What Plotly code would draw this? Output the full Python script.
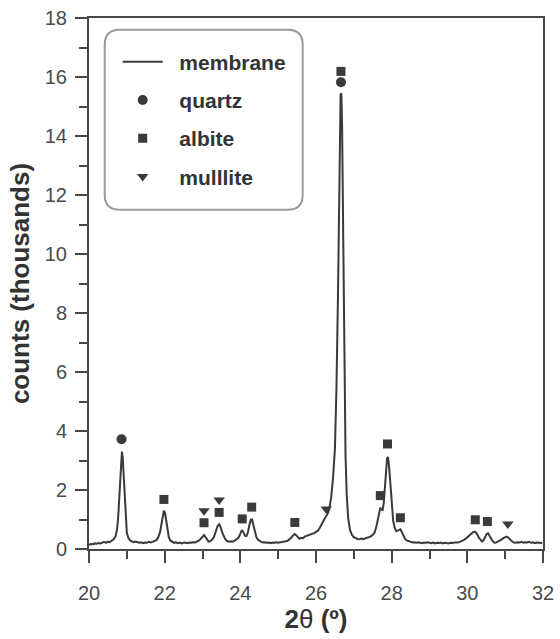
import plotly.graph_objects as go

# ---- data ----
two_theta = [
    20.00, 20.05, 20.10, 20.15, 20.20, 20.25, 20.30, 20.35, 20.40, 20.45, 20.50, 20.55, 20.60, 20.65, 20.70,
    20.74, 20.77, 20.80, 20.83, 20.85, 20.87, 20.89, 20.91, 20.94, 20.97, 21.00, 21.04, 21.08, 21.13, 21.18,
    21.23, 21.28, 21.33, 21.38, 21.43, 21.48, 21.53, 21.58, 21.63, 21.68, 21.73, 21.78, 21.83, 21.88, 21.92,
    21.95, 21.98, 22.01, 22.04, 22.07, 22.11, 22.15, 22.20, 22.25, 22.30, 22.35, 22.40, 22.45, 22.50, 22.55,
    22.60, 22.65, 22.70, 22.75, 22.80, 22.85, 22.90, 22.95, 23.00, 23.04, 23.08, 23.12, 23.16, 23.20, 23.25,
    23.30, 23.35, 23.40, 23.44, 23.48, 23.52, 23.56, 23.60, 23.65, 23.70, 23.75, 23.80, 23.85, 23.90, 23.95,
    24.00, 24.04, 24.08, 24.12, 24.16, 24.20, 24.24, 24.28, 24.31, 24.34, 24.38, 24.42, 24.46, 24.50, 24.55,
    24.60, 24.65, 24.70, 24.75, 24.80, 24.85, 24.90, 24.95, 25.00, 25.05, 25.10, 25.15, 25.20, 25.25, 25.30,
    25.35, 25.40, 25.44, 25.48, 25.52, 25.56, 25.60, 25.65, 25.70, 25.75, 25.80, 25.85, 25.90, 25.95, 26.00,
    26.05, 26.10, 26.15, 26.20, 26.25, 26.30, 26.35, 26.40, 26.45, 26.50, 26.54, 26.58, 26.61, 26.63, 26.65,
    26.67, 26.69, 26.71, 26.73, 26.75, 26.78, 26.81, 26.85, 26.90, 26.95, 27.00, 27.05, 27.10, 27.15, 27.20,
    27.25, 27.30, 27.35, 27.40, 27.45, 27.50, 27.55, 27.60, 27.64, 27.67, 27.70, 27.73, 27.76, 27.79, 27.82,
    27.85, 27.88, 27.90, 27.92, 27.95, 27.98, 28.01, 28.04, 28.08, 28.12, 28.16, 28.20, 28.23, 28.27, 28.31,
    28.35, 28.40, 28.45, 28.50, 28.55, 28.60, 28.65, 28.70, 28.75, 28.80, 28.85, 28.90, 28.95, 29.00, 29.05,
    29.10, 29.15, 29.20, 29.25, 29.30, 29.35, 29.40, 29.45, 29.50, 29.55, 29.60, 29.65, 29.70, 29.75, 29.80,
    29.85, 29.90, 29.95, 30.00, 30.05, 30.10, 30.15, 30.20, 30.25, 30.30, 30.35, 30.39, 30.43, 30.47, 30.51,
    30.55, 30.59, 30.63, 30.67, 30.71, 30.75, 30.80, 30.85, 30.90, 30.95, 31.00, 31.04, 31.08, 31.13, 31.18,
    31.23, 31.28, 31.33, 31.38, 31.43, 31.48, 31.53, 31.58, 31.63, 31.68, 31.73, 31.78, 31.83, 31.88, 31.93,
    31.98,
]
counts_k = [
    0.14, 0.17, 0.16, 0.19, 0.18, 0.20, 0.19, 0.22, 0.24, 0.21, 0.25, 0.23, 0.28, 0.33, 0.42,
    0.65, 1.05, 1.75, 2.65, 3.10, 3.30, 3.12, 2.60, 1.70, 0.95, 0.55, 0.38, 0.30, 0.26, 0.23,
    0.25, 0.22, 0.21, 0.23, 0.20, 0.22, 0.21, 0.24, 0.22, 0.24, 0.27, 0.30, 0.40, 0.58, 0.88,
    1.15, 1.30, 1.22, 0.95, 0.62, 0.40, 0.29, 0.24, 0.21, 0.23, 0.20, 0.22, 0.19, 0.21, 0.22,
    0.20, 0.22, 0.21, 0.23, 0.22, 0.25, 0.28, 0.34, 0.43, 0.47, 0.40, 0.30, 0.25, 0.26, 0.31,
    0.40, 0.58, 0.78, 0.84, 0.74, 0.56, 0.42, 0.33, 0.27, 0.25, 0.26, 0.25, 0.28, 0.32, 0.38,
    0.52, 0.64, 0.57, 0.45, 0.44, 0.56, 0.82, 1.00, 1.00, 0.82, 0.58, 0.42, 0.32, 0.27, 0.24,
    0.22, 0.23, 0.21, 0.22, 0.20, 0.22, 0.21, 0.23, 0.21, 0.22, 0.24, 0.23, 0.26, 0.28, 0.32,
    0.39, 0.47, 0.51, 0.46, 0.39, 0.35, 0.38, 0.36, 0.42, 0.44, 0.46, 0.49, 0.50, 0.54, 0.58,
    0.62, 0.72, 0.85, 0.98, 1.08, 1.18, 1.35, 1.75, 2.40, 3.40, 5.40, 8.50, 12.00, 14.40, 15.40,
    15.45, 14.30, 11.80, 8.60, 5.60, 3.20, 1.90, 1.05, 0.64, 0.48, 0.40, 0.36, 0.34, 0.33, 0.35,
    0.33, 0.35, 0.38, 0.40, 0.43, 0.48, 0.56, 0.78, 1.05, 1.30, 1.40, 1.34, 1.32, 1.55, 2.05,
    2.70, 3.08, 3.12, 2.95, 2.50, 1.90, 1.30, 0.95, 0.72, 0.60, 0.62, 0.66, 0.67, 0.58, 0.45,
    0.35, 0.29, 0.26, 0.24, 0.22, 0.23, 0.21, 0.23, 0.22, 0.20, 0.22, 0.21, 0.23, 0.22, 0.20,
    0.22, 0.19, 0.21, 0.20, 0.22, 0.19, 0.21, 0.20, 0.19, 0.21, 0.20, 0.22, 0.21, 0.22, 0.24,
    0.26, 0.30, 0.34, 0.40, 0.46, 0.52, 0.57, 0.59, 0.52, 0.39, 0.29, 0.25, 0.30, 0.42, 0.51,
    0.53, 0.46, 0.35, 0.27, 0.22, 0.21, 0.24, 0.28, 0.32, 0.37, 0.41, 0.42, 0.39, 0.32, 0.26,
    0.22, 0.21, 0.23, 0.22, 0.24, 0.21, 0.23, 0.22, 0.24, 0.21, 0.23, 0.20, 0.22, 0.21, 0.19,
    0.20,
]

quartz_x = [20.86, 26.66]
quartz_y = [3.72, 15.82]

albite_x = [21.98, 23.04, 23.44, 24.05, 24.30, 25.44, 26.66, 27.70, 27.89, 28.23, 30.21, 30.53]
albite_y = [1.68, 0.89, 1.24, 1.02, 1.42, 0.90, 16.19, 1.81, 3.56, 1.06, 0.99, 0.93]

mullite_x = [23.04, 23.44, 26.27, 31.07]
mullite_y = [1.30, 1.66, 1.36, 0.85]

x_ticks = [20, 22, 24, 26, 28, 30, 32]
y_ticks = [0, 2, 4, 6, 8, 10, 12, 14, 16, 18]

# ---- figure ----
INK = "#3a3a3a"
AXIS = "#474747"
FONT = "Arial, 'Liberation Sans', sans-serif"
PAD = "\u00a0\u00a0"

fig = go.Figure()
fig.add_trace(go.Scatter(x=two_theta, y=counts_k, mode="lines", name=PAD + "membrane",
                         line=dict(color=INK, width=2), legendgroup="a"))
fig.add_trace(go.Scatter(x=quartz_x, y=quartz_y, mode="markers", name=PAD + "quartz",
                         marker=dict(symbol="circle", size=10, color=INK), legendgroup="b"))
fig.add_trace(go.Scatter(x=albite_x, y=albite_y, mode="markers", name=PAD + "albite",
                         marker=dict(symbol="square", size=9, color=INK), legendgroup="c"))
fig.add_trace(go.Scatter(x=mullite_x, y=mullite_y, mode="markers", name=PAD + "mulllite",
                         marker=dict(symbol="triangle-down", size=10, color=INK), legendgroup="d"))

# rounded legend frame (paper coordinates)
x0, x1, y0, y1 = 0.0346, 0.4707, 0.6388, 0.978
rx, ry = 0.033, 0.0283
path = (f"M {x0+rx},{y1} L {x1-rx},{y1} Q {x1},{y1} {x1},{y1-ry} "
        f"L {x1},{y0+ry} Q {x1},{y0} {x1-rx},{y0} "
        f"L {x0+rx},{y0} Q {x0},{y0} {x0},{y0+ry} "
        f"L {x0},{y1-ry} Q {x0},{y1} {x0+rx},{y1} Z")
fig.add_shape(type="path", path=path, xref="paper", yref="paper",
              line=dict(color="#9a9a9a", width=2), fillcolor="rgba(0,0,0,0)", layer="above")

axis_common = dict(
    showline=True, linecolor=AXIS, linewidth=2, mirror=True,
    ticks="outside", ticklen=12, tickwidth=2, tickcolor=AXIS,
    showgrid=False, zeroline=False, automargin=False, ticklabeloverflow="allow",
    tickfont=dict(family=FONT, size=20, color="#4a4a4a"),
)

fig.update_layout(
    width=560, height=639,
    margin=dict(l=89, r=17, t=18, b=90),
    paper_bgcolor="white", plot_bgcolor="white",
    font=dict(family=FONT, color="#333333"),
    xaxis=dict(range=[20, 32], tickvals=x_ticks, ticktext=[str(v) for v in x_ticks],
               minor=dict(ticks="outside", dtick=1, tick0=20, ticklen=8, tickwidth=2, tickcolor=AXIS),
               ticklabelstandoff=13,
               title=dict(text="<b>2</b>θ <b>(º)</b>", font=dict(family=FONT, size=26, color="#333333"),
                          standoff=5),
               **axis_common),
    yaxis=dict(range=[0, 18], tickvals=y_ticks, ticktext=[str(v) for v in y_ticks],
               minor=dict(ticks="outside", dtick=1, tick0=0, ticklen=8, tickwidth=2, tickcolor=AXIS),
               ticklabelstandoff=4,
               title=dict(text="<b>counts (thousands)</b>", font=dict(family=FONT, size=26, color="#333333"),
                          standoff=8),
               **axis_common),
    showlegend=True,
    legend=dict(x=0.0632, y=0.9557, xanchor="left", yanchor="top",
                bgcolor="rgba(0,0,0,0)", borderwidth=0,
                font=dict(family=FONT, size=21, color="#333333", weight="bold"),
                traceorder="grouped", tracegroupgap=8, itemwidth=40),
)

fig.write_html("out.html", config={"displayModeBar": False},
               post_script="document.body.style.margin='0';document.body.style.overflow='hidden';")
